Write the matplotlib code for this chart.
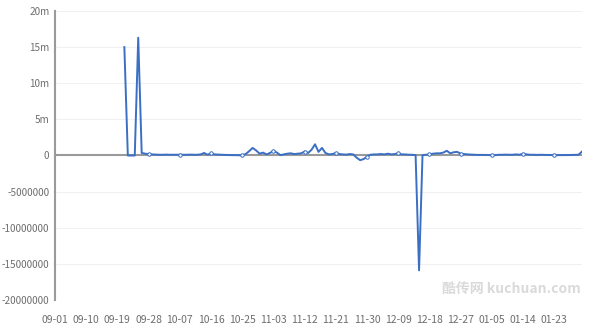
import numpy as np
import matplotlib
matplotlib.use('Agg')
import matplotlib.pyplot as plt
import datetime as dt

plt.rcParams['font.family'] = ['Noto Sans CJK SC', 'DejaVu Sans']

# ---------------------------- data ----------------------------
start_day = dt.date(2018, 9, 1)
n_days = 153
dates = [start_day + dt.timedelta(days=i) for i in range(n_days)]
date_labels = [d.strftime('%m-%d') for d in dates]

first_day = 20  # series starts on 09-21
# values in millions, one per day from 09-21 to 01-31
values_m = [
    15.0, 0, 0, 0, 16.3, 0.35, 0.25, 0.2, 0.15, 0.12,          # 20-29
    0.1, 0.1, 0.12, 0.1, 0.1, 0.1, 0.1, 0.1, 0.1, 0.12,         # 30-39
    0.1, 0.1, 0.15, 0.35, 0.1, 0.3, 0.15, 0.12, 0.1, 0.08,      # 40-49
    0.06, 0.05, 0.05, 0.03, 0.02, 0.2, 0.6, 1.05, 0.7, 0.25,    # 50-59
    0.4, 0.15, 0.35, 0.65, 0.4, 0.05, 0.15, 0.25, 0.3, 0.2,     # 60-69
    0.25, 0.3, 0.55, 0.35, 0.8, 1.55, 0.5, 1.05, 0.35, 0.15,    # 70-79
    0.2, 0.35, 0.2, 0.15, 0.12, 0.2, 0.15, -0.3, -0.65, -0.5,   # 80-89
    -0.15, 0.1, 0.15, 0.15, 0.2, 0.15, 0.25, 0.15, 0.2, 0.3,    # 90-99
    0.15, 0.15, 0.1, 0.1, 0.05, -15.9, 0.05, 0.1, 0.15, 0.25,   # 100-109
    0.3, 0.3, 0.4, 0.65, 0.3, 0.45, 0.5, 0.25, 0.2, 0.15,       # 110-119
    0.12, 0.1, 0.08, 0.08, 0.08, 0.06, 0.05, 0.05, 0.1, 0.1,    # 120-129
    0.12, 0.1, 0.1, 0.15, 0.1, 0.25, 0.15, 0.1, 0.1, 0.08,      # 130-139
    0.1, 0.08, 0.07, 0.06, 0.05, 0.05, 0.05, 0.06, 0.06, 0.07,  # 140-149
    0.08, 0.1, 0.55,                                            # 150-152
]

y_ticks = [20e6, 15e6, 10e6, 5e6, 0, -5e6, -10e6, -15e6, -20e6]
y_tick_labels = ['20m', '15m', '10m', '5m', '0', '-5000000', '-10000000',
                 '-15000000', '-20000000']

# ---------------------------- plot ----------------------------
line_color = '#3a6fc4'
text_color = '#6e6e6e'

fig = plt.figure(figsize=(6.0, 3.31), dpi=100)
ax = fig.add_axes([0.0917, 0.0937, 0.8783, 0.8731])

x = np.arange(first_day, first_day + len(values_m))
y = np.array(values_m) * 1e6

for t in y_ticks:
    if t != 0:
        ax.axhline(t, color='#f0f0f0', linewidth=0.8, zorder=0)
ax.axhline(0, color='#9a9a9a', linewidth=1.5, zorder=1)

ax.plot(x, y, color=line_color, linewidth=1.4, zorder=3)

mk = (x % 9 == 0) & (np.abs(y) < 5e6)
ax.plot(x[mk], y[mk], linestyle='none', marker='o', markersize=2.5,
        markerfacecolor='white', markeredgecolor=line_color,
        markeredgewidth=0.7, zorder=4)

ax.set_xlim(0, n_days - 1)
ax.set_ylim(-20e6, 20e6)

ax.set_xticks(range(0, n_days, 9))
ax.set_xticklabels([date_labels[i] for i in range(0, n_days, 9)])
ax.set_yticks(y_ticks)
ax.set_yticklabels(y_tick_labels)

ax.tick_params(axis='x', length=0, pad=11, labelsize=7.5, colors=text_color)
ax.tick_params(axis='y', length=0, pad=4, labelsize=7.2, colors=text_color)

for s in ['top', 'right', 'bottom']:
    ax.spines[s].set_visible(False)
ax.spines['left'].set_color('#9a9a9a')
ax.spines['left'].set_linewidth(1.5)

fig.text(0.968, 0.128, '酷传网 kuchuan.com', ha='right', va='center',
         fontsize=10, fontweight='bold', color='#dadada')

fig.savefig('out.png', dpi=100)
